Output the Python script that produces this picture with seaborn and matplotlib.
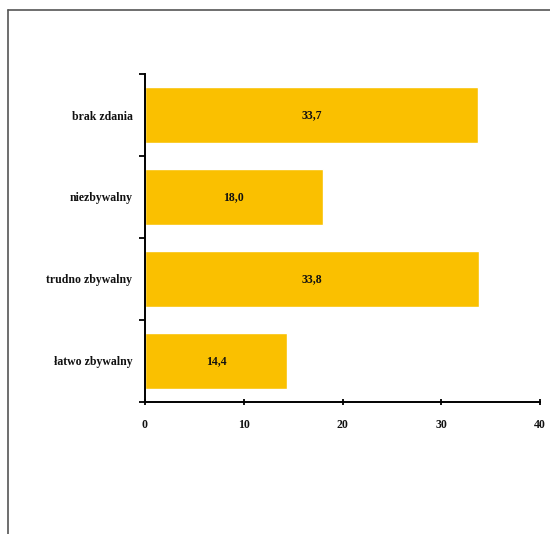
import matplotlib
matplotlib.use("Agg")
import matplotlib.pyplot as plt
from matplotlib.lines import Line2D
import seaborn as sns
import pandas as pd
import numpy as np

categories = ["brak zdania", "niezbywalny", "trudno zbywalny", "łatwo zbywalny"]
values = [33.7, 18.0, 33.8, 14.4]
value_labels = ["33,7", "18,0", "33,8", "14,4"]
x_ticks = [0, 10, 20, 30, 40]

sns.set_theme(style="white")
plt.rcParams['font.family'] = ['Liberation Serif', 'DejaVu Serif']

df = pd.DataFrame({"cat": categories, "val": values})

fig = plt.figure(figsize=(5.5, 5.34), dpi=100)
ax = fig.add_axes([145/550, 1-402/534, 395/550, 328/534])
sns.barplot(data=df, x="val", y="cat", order=categories, color="#FAC000",
            saturation=1, width=0.68, ax=ax, orient="h")

ax.set_xlim(0, 40)
ax.set_ylim(3.5, -0.5)
ax.set_xlabel("")
ax.set_ylabel("")
ax.set_xticks(x_ticks)
ax.set_xticklabels([str(t) for t in x_ticks], fontsize=8.5, fontweight="bold")
ax.set_yticks(range(len(categories)))
ax.set_yticklabels(categories, fontsize=8.5, fontweight="bold")
ax.set_yticks(np.arange(-0.5, len(categories), 1), minor=True)
ax.tick_params(axis="y", which="major", length=0, pad=9, colors="#111111")
ax.tick_params(axis="y", which="minor", length=4, width=1.3, direction="out", color="black", left=True)
ax.tick_params(axis="x", which="major", length=5, width=1.3, direction="inout", color="black", bottom=True, pad=10, labelcolor="#111111")

for s in ["top", "right"]:
    ax.spines[s].set_visible(False)
for s in ["left", "bottom"]:
    ax.spines[s].set_color("black")
    ax.spines[s].set_linewidth(1.4)

for i, c in enumerate(ax.containers[0]):
    w = c.get_width()
    ax.text(w / 2, c.get_y() + c.get_height() / 2, value_labels[i],
            ha="center", va="center", fontsize=8.5, fontweight="bold", color="#111111")

# outer frame (top and left)
fig.add_artist(Line2D([8/550, 1.0], [1-10/534, 1-10/534], transform=fig.transFigure, color="#555555", lw=1.2))
fig.add_artist(Line2D([8/550, 8/550], [0, 1-10/534], transform=fig.transFigure, color="#555555", lw=1.2))

fig.savefig("out.png", dpi=100)
